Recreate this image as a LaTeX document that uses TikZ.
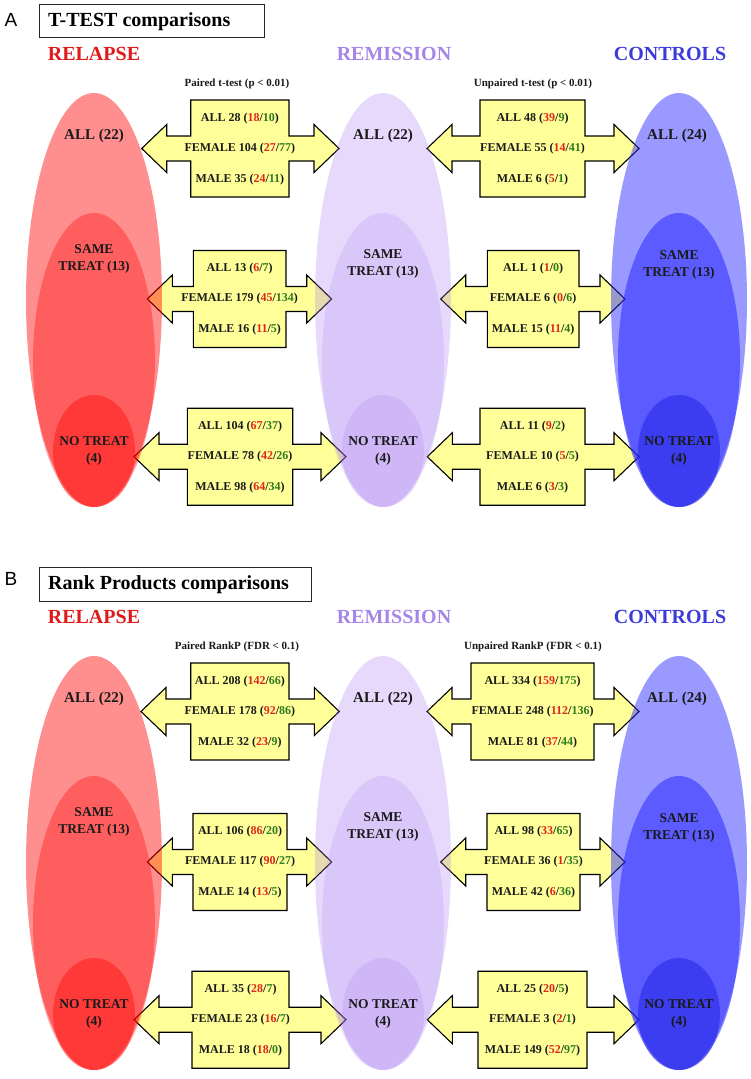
\documentclass[tikz,border=0pt]{standalone}
\usepackage{fontspec}
\setmainfont{Liberation Serif}
\newfontfamily\lblfont{Liberation Sans}
\definecolor{arrowfill}{HTML}{FFFF99}
\definecolor{numred}{HTML}{E0261A}
\definecolor{numgreen}{HTML}{2E7A1E}
\definecolor{relapsecol}{HTML}{E0191B}
\definecolor{remissioncol}{HTML}{A585E8}
\definecolor{controlscol}{HTML}{3B3BDB}
\definecolor{relbase}{HTML}{FF0000}
\definecolor{rembase}{HTML}{A070F0}
\definecolor{conbase}{HTML}{2828FF}
\definecolor{txtdark}{HTML}{1A1A1A}

\newcommand\nred[1]{\textcolor{numred}{#1}}
\newcommand\ngrn[1]{\textcolor{numgreen}{#1}}

\tikzset{
  arrowshape/.style={draw=black, line width=1.1pt, fill=arrowfill, line join=miter},
  boxtxt/.style={font=\fontsize{12}{14}\selectfont\bfseries, inner sep=0pt, text=txtdark},
  subtxt/.style={font=\fontsize{11}{13}\selectfont\bfseries, inner sep=0pt, text=txtdark},
  elltxt/.style={font=\fontsize{15}{17}\selectfont\bfseries, inner sep=0pt, text=txtdark},
  ellsmall/.style={font=\fontsize{13.5}{17}\selectfont\bfseries, inner sep=0pt, text=txtdark, align=center},
  grouptxt/.style={font=\fontsize{20}{22}\selectfont\bfseries, inner sep=0pt},
  titlebox/.style={draw=black!85, line width=1pt, fill=white},
  titletxt/.style={font=\fontsize{20}{22}\selectfont\bfseries, inner sep=0pt, anchor=west},
  paneltxt/.style={font=\lblfont\fontsize{19}{21}\selectfont, inner sep=0pt}
}

% #1 name, #2 cy, #3 left tip, #4 box left, #5 box right, #6 right tip, #7-#9 lines
\newcommand\dblarrow[9]{%
  \draw[arrowshape] (#3,#2) -- (#3+25,#2-24) -- (#3+25,#2-12.5) -- (#4,#2-12.5)
    -- (#4,#2-48.5) -- (#5,#2-48.5) -- (#5,#2-12.5) -- (#6-25,#2-12.5)
    -- (#6-25,#2-24) -- (#6,#2) -- (#6-25,#2+24) -- (#6-25,#2+12.5)
    -- (#5,#2+12.5) -- (#5,#2+48.5) -- (#4,#2+48.5) -- (#4,#2+12.5)
    -- (#3+25,#2+12.5) -- (#3+25,#2+24) -- cycle;
  \node[boxtxt] (#1-all) at ({(#4+#5)/2},#2-30) {#7};
  \node[boxtxt] (#1-fem) at ({(#4+#5)/2},#2) {#8};
  \node[boxtxt] (#1-mal) at ({(#4+#5)/2},#2+31) {#9};
}

% ellipses + their labels, #1 prefix
\newcommand\ellset[1]{%
  % relapse
  \fill[relbase, fill opacity=0.44] (94,300) ellipse [x radius=68pt, y radius=207pt];
  \fill[relbase, fill opacity=0.34] (94,360) ellipse [x radius=61pt, y radius=147pt];
  \fill[relbase, fill opacity=0.40] (94,451) ellipse [x radius=41pt, y radius=56pt];
  % remission
  \fill[rembase, fill opacity=0.26] (383,300) ellipse [x radius=68pt, y radius=207pt];
  \fill[rembase, fill opacity=0.17] (383,360) ellipse [x radius=61pt, y radius=147pt];
  \fill[rembase, fill opacity=0.18] (383,451) ellipse [x radius=41pt, y radius=56pt];
  % controls
  \fill[conbase, fill opacity=0.47] (679,300) ellipse [x radius=68pt, y radius=207pt];
  \fill[conbase, fill opacity=0.54] (679,360) ellipse [x radius=61pt, y radius=147pt];
  \fill[conbase!90!black, fill opacity=0.55] (679,451) ellipse [x radius=41pt, y radius=56pt];
  \node[elltxt] (#1-rel-all) at (94,136) {ALL (22)};
  \node[ellsmall] (#1-rel-same) at (94,258.5) {SAME\\TREAT (13)};
  \node[ellsmall] (#1-rel-no) at (94,451) {NO TREAT\\(4)};
  \node[elltxt] (#1-rem-all) at (383,136) {ALL (22)};
  \node[ellsmall] (#1-rem-same) at (383,264) {SAME\\TREAT (13)};
  \node[ellsmall] (#1-rem-no) at (383,451) {NO TREAT\\(4)};
  \node[elltxt] (#1-con-all) at (677,136) {ALL (24)};
  \node[ellsmall] (#1-con-same) at (679,265) {SAME\\TREAT (13)};
  \node[ellsmall] (#1-con-no) at (679,451) {NO TREAT\\(4)};
  \node[grouptxt, text=relapsecol] (#1-relapse) at (94,54) {RELAPSE};
  \node[grouptxt, text=remissioncol] (#1-remission) at (394,54) {REMISSION};
  \node[grouptxt, text=controlscol] (#1-controls) at (670,54) {CONTROLS};
}

\begin{document}
\begin{tikzpicture}[x=1pt,y=-1pt]
\useasboundingbox (0,0) rectangle (751,1079);
\fill[white] (0,0) rectangle (751,1079);

% ---------------- Panel A ----------------
\node[paneltxt] (labA) at (11,20) {A};
\draw[titlebox] (39.3,4) rectangle (264,37.7);
\node[titletxt] (titleA) at (48,22) {T-TEST comparisons};
\node[subtxt] (subA1) at (237,84) {Paired t-test (p < 0.01)};
\node[subtxt] (subA2) at (533,84) {Unpaired t-test (p < 0.01)};

\dblarrow{a1}{148.5}{141.7}{190.7}{289}{339}{ALL 28 (\nred{18}/\ngrn{10})}{FEMALE 104 (\nred{27}/\ngrn{77})}{MALE 35 (\nred{24}/\ngrn{11})}
\dblarrow{a2}{148.5}{427}{480}{585}{639}{ALL 48 (\nred{39}/\ngrn{9})}{FEMALE 55 (\nred{14}/\ngrn{41})}{MALE 6 (\nred{5}/\ngrn{1})}
\dblarrow{a3}{299}{147.3}{193.3}{286}{331.7}{ALL 13 (\nred{6}/\ngrn{7})}{FEMALE 179 (\nred{45}/\ngrn{134})}{MALE 16 (\nred{11}/\ngrn{5})}
\dblarrow{a4}{299}{440.7}{487.3}{579}{625}{ALL 1 (\nred{1}/\ngrn{0})}{FEMALE 6 (\nred{0}/\ngrn{6})}{MALE 15 (\nred{11}/\ngrn{4})}
\dblarrow{a5}{456.7}{134}{187.3}{292.7}{346}{ALL 104 (\nred{67}/\ngrn{37})}{FEMALE 78 (\nred{42}/\ngrn{26})}{MALE 98 (\nred{64}/\ngrn{34})}
\dblarrow{a6}{456.7}{427.3}{480}{585}{639}{ALL 11 (\nred{9}/\ngrn{2})}{FEMALE 10 (\nred{5}/\ngrn{5})}{MALE 6 (\nred{3}/\ngrn{3})}

\ellset{A}

% ---------------- Panel B ----------------
\begin{scope}[shift={(0,563)}]
\node[paneltxt] (labB) at (11,16) {B};
\draw[titlebox] (39.3,4.5) rectangle (311.7,38);
\node[titletxt] (titleB) at (48,22) {Rank Products comparisons};
\node[subtxt] (subB1) at (237,84) {Paired RankP (FDR < 0.1)};
\node[subtxt] (subB2) at (533,84) {Unpaired RankP (FDR < 0.1)};

\dblarrow{b1}{148.5}{141}{190.7}{289}{339.3}{ALL 208 (\nred{142}/\ngrn{66})}{FEMALE 178 (\nred{92}/\ngrn{86})}{MALE 32 (\nred{23}/\ngrn{9})}
\dblarrow{b2}{148.5}{427}{471}{594}{639}{ALL 334 (\nred{159}/\ngrn{175})}{FEMALE 248 (\nred{112}/\ngrn{136})}{MALE 81 (\nred{37}/\ngrn{44})}
\dblarrow{b3}{299}{147.3}{193}{287}{331.7}{ALL 106 (\nred{86}/\ngrn{20})}{FEMALE 117 (\nred{90}/\ngrn{27})}{MALE 14 (\nred{13}/\ngrn{5})}
\dblarrow{b4}{299}{440.7}{487}{580}{625}{ALL 98 (\nred{33}/\ngrn{65})}{FEMALE 36 (\nred{1}/\ngrn{35})}{MALE 42 (\nred{6}/\ngrn{36})}
\dblarrow{b5}{456.7}{134}{192}{289}{346}{ALL 35 (\nred{28}/\ngrn{7})}{FEMALE 23 (\nred{16}/\ngrn{7})}{MALE 18 (\nred{18}/\ngrn{0})}
\dblarrow{b6}{456.7}{427.3}{478}{587}{639}{ALL 25 (\nred{20}/\ngrn{5})}{FEMALE 3 (\nred{2}/\ngrn{1})}{MALE 149 (\nred{52}/\ngrn{97})}

\ellset{B}
\end{scope}
\end{tikzpicture}
\end{document}
